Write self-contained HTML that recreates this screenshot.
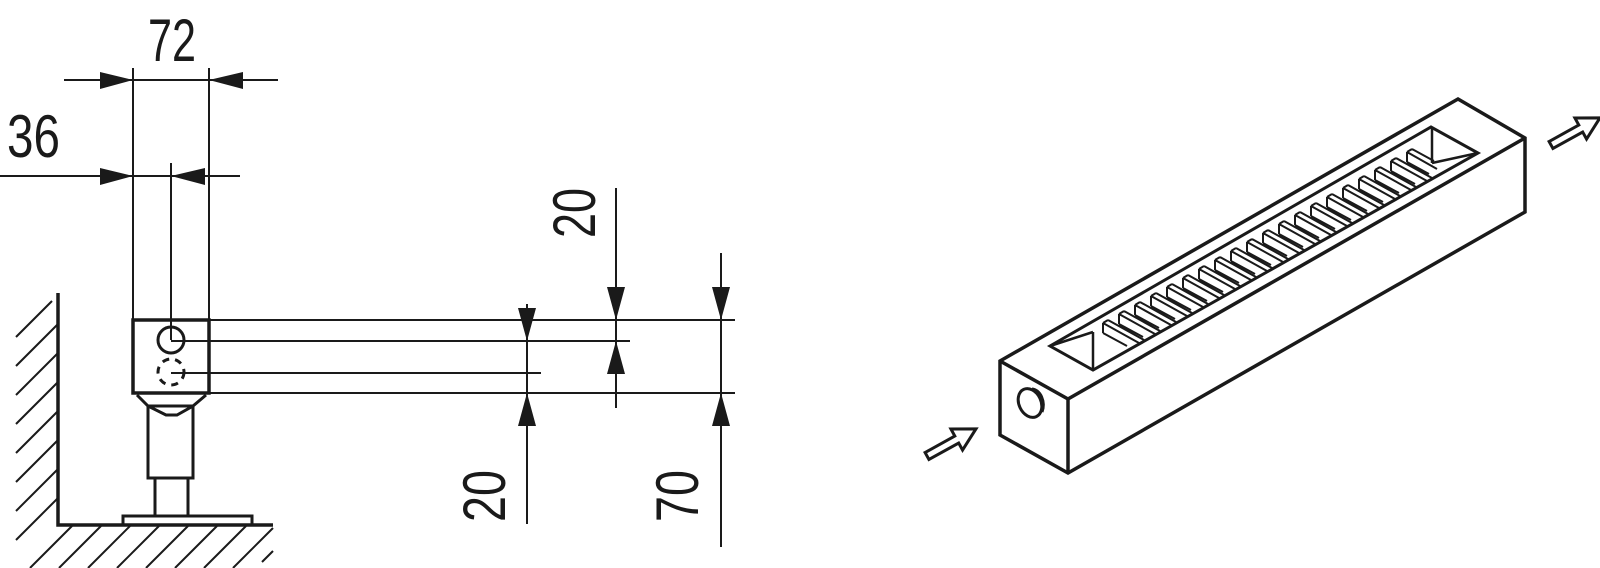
<!DOCTYPE html>
<html><head><meta charset="utf-8"><style>
html,body{margin:0;padding:0;background:#fff;}
svg{display:block;}
text{font-family:"Liberation Sans",sans-serif;font-size:60px;fill:#1a1a1a;}
</style></head><body>
<svg width="1600" height="568" viewBox="0 0 1600 568" xmlns="http://www.w3.org/2000/svg">
<g stroke="#1a1a1a" fill="none" stroke-linecap="butt">
<g stroke-width="2">
<line x1="16" y1="337" x2="52" y2="301"/>
<line x1="16" y1="366" x2="58" y2="324"/>
<line x1="16" y1="395" x2="58" y2="353"/>
<line x1="16" y1="424" x2="58" y2="382"/>
<line x1="16" y1="453" x2="58" y2="411"/>
<line x1="16" y1="482" x2="58" y2="440"/>
<line x1="16" y1="511" x2="58" y2="469"/>
<line x1="16" y1="540" x2="58" y2="498"/>
<line x1="30" y1="568" x2="72" y2="526"/>
<line x1="59" y1="568" x2="101" y2="526"/>
<line x1="88" y1="568" x2="130" y2="526"/>
<line x1="117" y1="568" x2="159" y2="526"/>
<line x1="146" y1="568" x2="188" y2="526"/>
<line x1="175" y1="568" x2="217" y2="526"/>
<line x1="204" y1="568" x2="246" y2="526"/>
<line x1="233" y1="568" x2="273" y2="528"/>
<line x1="262" y1="562" x2="273" y2="551"/>
</g>
<polyline points="58,293 58,525 273,525" stroke-width="3.5"/>
<g stroke-width="3">
<rect x="123" y="516" width="129" height="9"/>
<polyline points="155,516 155,478 188,478 188,516"/>
<rect x="148" y="406" width="45" height="72"/>
<polyline points="137,395 148,406 166,415 177,415 193,406 206,395"/>
<rect x="133" y="320" width="76" height="73" stroke-width="3.5"/>
<circle cx="171" cy="340" r="13"/>
<circle cx="171" cy="372" r="13" stroke-dasharray="7,6"/>
</g>
<g stroke-width="2">
<line x1="133" y1="68" x2="133" y2="320"/>
<line x1="209" y1="68" x2="209" y2="320"/>
<line x1="171" y1="163" x2="171" y2="340"/>
<line x1="64" y1="80" x2="278" y2="80"/>
<line x1="0" y1="176" x2="240" y2="176"/>
<line x1="209" y1="320" x2="735" y2="320"/>
<line x1="209" y1="393" x2="735" y2="393"/>
<line x1="171" y1="341" x2="630" y2="341"/>
<line x1="171" y1="373" x2="541" y2="373"/>
<line x1="616" y1="188" x2="616" y2="408"/>
<line x1="527" y1="304" x2="527" y2="524"/>
<line x1="721" y1="253" x2="721" y2="547"/>
</g>
</g>
<g fill="#1a1a1a">
<polygon points="133,80 100,72 100,89"/>
<polygon points="209,80 243,72 243,89"/>
<polygon points="133,176 100,168 100,185"/>
<polygon points="171,176 205,168 205,185"/>
<polygon points="616,320 607,287 625,287"/>
<polygon points="616,341 607,374 625,374"/>
<polygon points="527,341 518,308 536,308"/>
<polygon points="527,393 518,426 536,426"/>
<polygon points="721,320 712,287 730,287"/>
<polygon points="721,393 712,426 730,426"/>
</g>
<text x="148" y="61" textLength="48" lengthAdjust="spacingAndGlyphs">72</text>
<text x="7" y="157" textLength="53" lengthAdjust="spacingAndGlyphs">36</text>
<text transform="translate(595,238) rotate(-90)" x="0" y="0" textLength="50" lengthAdjust="spacingAndGlyphs">20</text>
<text transform="translate(505,522) rotate(-90)" x="0" y="0" textLength="52" lengthAdjust="spacingAndGlyphs">20</text>
<text transform="translate(698,522) rotate(-90)" x="0" y="0" textLength="52" lengthAdjust="spacingAndGlyphs">70</text>

<g stroke="#1a1a1a" fill="none" stroke-width="3.5" stroke-linejoin="miter">
<polygon points="1000,361 1458,99 1525,138 1525,212 1068,473 1000,435"/>
<polyline points="1000,361 1068,399 1525,138"/>
<line x1="1068" y1="399" x2="1068" y2="473"/>
<polygon points="1050,346 1431,127 1478,153 1093,370" stroke-width="3"/>
<g stroke-width="2.5">
<line x1="1093" y1="332" x2="1093" y2="370"/>
<line x1="1050" y1="346" x2="1093" y2="332"/>
<line x1="1432" y1="127" x2="1432" y2="163"/>
<line x1="1432" y1="163" x2="1478" y2="153"/>
</g>
<ellipse cx="1030" cy="403" rx="11" ry="15" transform="rotate(-25 1030 403)" stroke-width="3"/>
<path d="M1030,390 A12,16 0 0 1 1040,413" stroke-width="3" transform="translate(2,-1)"/>
<polygon points="0,-4 34,-4 34,-12 56,0 34,12 34,4 0,4" stroke-width="3" transform="translate(927,456) rotate(-29)"/>
<polygon points="0,-4 34,-4 34,-12 56,0 34,12 34,4 0,4" stroke-width="3" transform="translate(1551,145) rotate(-29)"/>
</g>
<g stroke="#1a1a1a" fill="none" stroke-width="2">
<path d="
M1103,323 v10 M1103,323 l5,-3 M1103,323 l36,20 M1108,320 l36,20 M1103,333 l24,13
M1119,314 v10 M1119,314 l5,-3 M1119,314 l36,20 M1124,311 l36,20 M1119,324 l24,13
M1135,305 v10 M1135,305 l5,-3 M1135,305 l36,20 M1140,302 l36,20 M1135,315 l24,13
M1151,296 v10 M1151,296 l5,-3 M1151,296 l36,20 M1156,293 l36,20 M1151,306 l24,13
M1167,287 v10 M1167,287 l5,-3 M1167,287 l36,20 M1172,284 l36,20 M1167,297 l24,13
M1183,278 v10 M1183,278 l5,-3 M1183,278 l36,20 M1188,275 l36,20 M1183,288 l24,13
M1199,269 v10 M1199,269 l5,-3 M1199,269 l36,20 M1204,266 l36,20 M1199,279 l24,13
M1215,260 v10 M1215,260 l5,-3 M1215,260 l36,20 M1220,257 l36,20 M1215,270 l24,13
M1231,251 v10 M1231,251 l5,-3 M1231,251 l36,20 M1236,248 l36,20 M1231,261 l24,13
M1247,242 v10 M1247,242 l5,-3 M1247,242 l36,20 M1252,239 l36,20 M1247,252 l24,13
M1263,233 v10 M1263,233 l5,-3 M1263,233 l36,20 M1268,230 l36,20 M1263,243 l24,13
M1279,224 v10 M1279,224 l5,-3 M1279,224 l36,20 M1284,221 l36,20 M1279,234 l24,13
M1295,215 v10 M1295,215 l5,-3 M1295,215 l36,20 M1300,212 l36,20 M1295,225 l24,13
M1311,206 v10 M1311,206 l5,-3 M1311,206 l36,20 M1316,203 l36,20 M1311,216 l24,13
M1327,197 v10 M1327,197 l5,-3 M1327,197 l36,20 M1332,194 l36,20 M1327,207 l24,13
M1343,188 v10 M1343,188 l5,-3 M1343,188 l36,20 M1348,185 l36,20 M1343,198 l24,13
M1359,179 v10 M1359,179 l5,-3 M1359,179 l36,20 M1364,176 l36,20 M1359,189 l24,13
M1375,170 v10 M1375,170 l5,-3 M1375,170 l36,20 M1380,167 l36,20 M1375,180 l24,13
M1391,161 v10 M1391,161 l5,-3 M1391,161 l36,20 M1396,158 l36,20 M1391,171 l24,13
M1407,152 v10 M1407,152 l5,-3 M1407,152 l30,17 M1412,149 l22,12 M1407,162 l22,12
"/>
</g>
</svg>
</body></html>
